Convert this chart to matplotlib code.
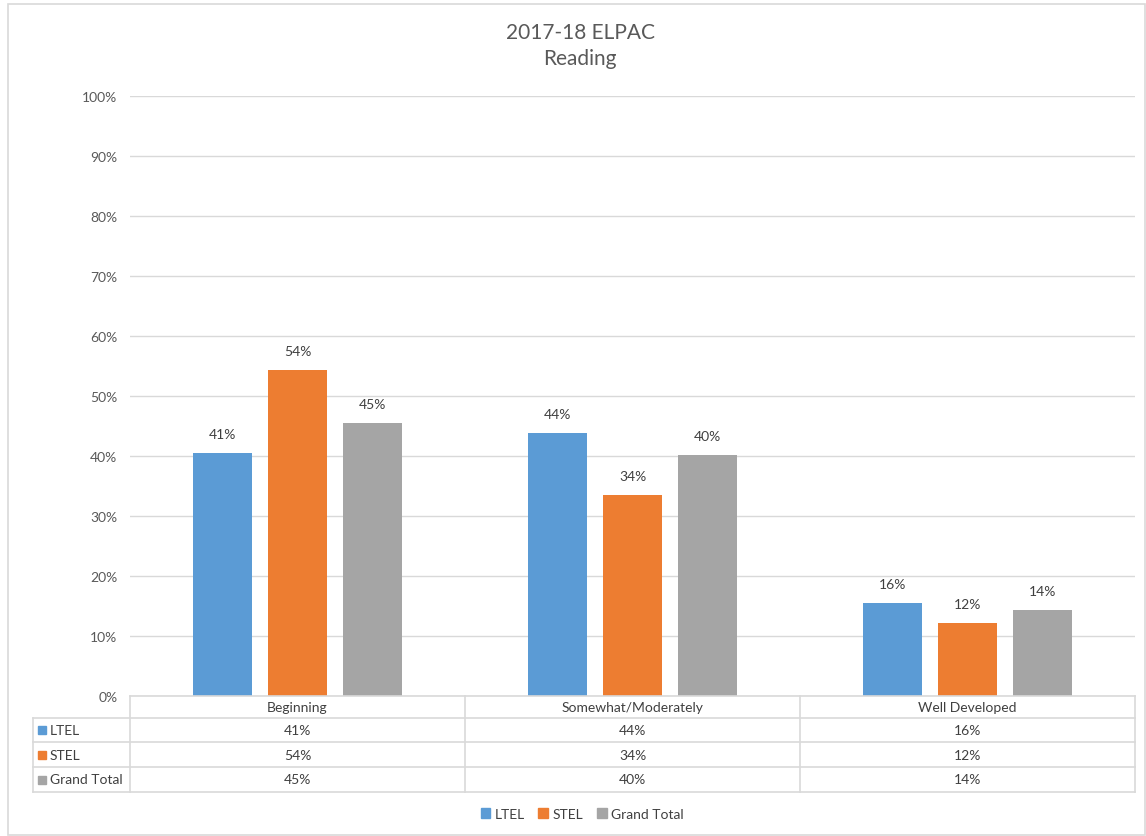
import matplotlib
matplotlib.use("Agg")
import matplotlib.pyplot as plt
from matplotlib.patches import Rectangle
import numpy as np

plt.rcParams['font.family'] = ['Lato', 'DejaVu Sans']

categories = ["Beginning", "Somewhat/Moderately", "Well Developed"]
series_names = ["LTEL", "STEL", "Grand Total"]
ltel = [40.5, 43.8, 15.5]
stel = [54.3, 33.5, 12.2]
grand = [45.5, 40.2, 14.3]
labels_ltel = ["41%", "44%", "16%"]
labels_stel = ["54%", "34%", "12%"]
labels_grand = ["45%", "40%", "14%"]
colors = ["#5B9BD5", "#ED7D31", "#A5A5A5"]
yticks = [0, 10, 20, 30, 40, 50, 60, 70, 80, 90, 100]

W, H = 1146, 837
fig = plt.figure(figsize=(W / 100, H / 100), dpi=100)

def fx(x):
    return x / W

def fy(y):
    return 1 - y / H

# outer border
fig.patches.append(Rectangle((fx(8), fy(836)), fx(1145) - fx(8), fy(5) - fy(836),
                             transform=fig.transFigure, fill=False, edgecolor="#D9D9D9", lw=1.2))

left, right, top, bottom = 130, 1135, 97, 697
ax = fig.add_axes([fx(left), fy(bottom), fx(right) - fx(left), fy(top) - fy(bottom)])
ax.set_xlim(0, 3)
ax.set_ylim(0, 100)
ax.set_yticks(yticks)
ax.set_yticklabels([f"{t}%" for t in yticks], fontsize=10, color="#595959")
ax.tick_params(axis='y', length=0, pad=9)
ax.set_xticks([])
ax.grid(axis='y', color="#D9D9D9", lw=1)
ax.set_axisbelow(True)
for s in ax.spines.values():
    s.set_visible(False)

bw = 0.176
offs = [-0.224, 0.0, 0.224]
x = np.arange(3) + 0.5
for vals, labs, off, c in zip([ltel, stel, grand], [labels_ltel, labels_stel, labels_grand], offs, colors):
    bars = ax.bar(x + off, vals, width=bw, color=c, zorder=3)
    for b, l in zip(bars, labs):
        ax.text(b.get_x() + b.get_width() / 2, b.get_height() + 2.2, l,
                ha='center', va='bottom', fontsize=10, color="#404040")

fig.text(fx(580), fy(46), "2017-18 ELPAC\nReading", ha='center', va='center',
         fontsize=15, color="#595959", linespacing=1.4)

# data table
tcol = "#D9D9D9"
row_y = [697, 719, 743, 768, 793]
col_x = [33, 130, 465, 800, 1135]
tax = fig.add_axes([0, 0, 1, 1], facecolor='none')
tax.set_xlim(0, W)
tax.set_ylim(H, 0)
tax.axis('off')
tax.plot([130, 1135], [697, 697], color=tcol, lw=1.2)
for xx in col_x[1:]:
    tax.plot([xx, xx], [697, 793], color=tcol, lw=1.2)
tax.plot([33, 33], [719, 793], color=tcol, lw=1.2)
for yy in row_y[1:]:
    tax.plot([33, 1135], [yy, yy], color=tcol, lw=1.2)

for i, cat in enumerate(categories):
    cx = (col_x[i + 1] + col_x[i + 2]) / 2
    tax.text(cx, (697 + 719) / 2, cat, ha='center', va='center', fontsize=10, color="#404040")
all_labels = [labels_ltel, labels_stel, labels_grand]
for r, (name, labs, c) in enumerate(zip(series_names, all_labels, colors)):
    cy = (row_y[r + 1] + row_y[r + 2]) / 2
    tax.add_patch(Rectangle((38, cy - 4), 8, 8, color=c))
    tax.text(50, cy, name, ha='left', va='center', fontsize=10, color="#404040")
    for i, l in enumerate(labs):
        cx = (col_x[i + 1] + col_x[i + 2]) / 2
        tax.text(cx, cy, l, ha='center', va='center', fontsize=10, color="#404040")

# legend
handles = [Rectangle((0, 0), 1, 1, color=c) for c in colors]
fig.legend(handles, series_names, loc='center', bbox_to_anchor=(fx(582), fy(815)), ncol=3,
           frameon=False, fontsize=10, handlelength=0.7, handleheight=0.7, handletextpad=0.3,
           columnspacing=1.0, labelcolor="#404040")

fig.savefig("out.png", dpi=100)
